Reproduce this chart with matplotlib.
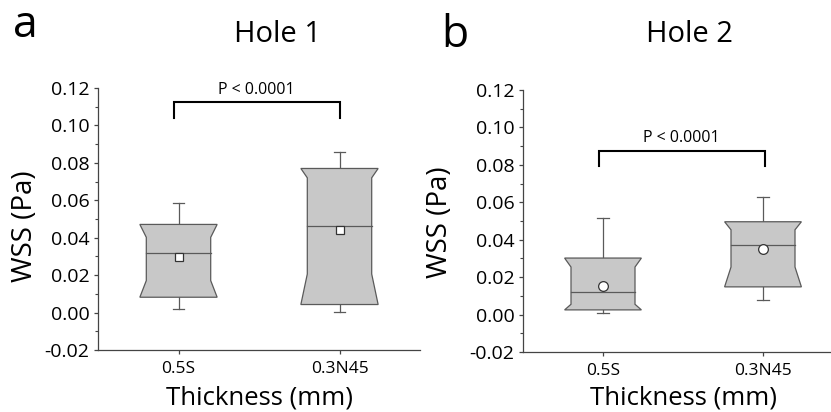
import numpy as np
import matplotlib
matplotlib.use('Agg')
import matplotlib.pyplot as plt
from matplotlib.patches import Polygon

plt.rcParams['font.family'] = ['Open Sans', 'DejaVu Sans']

# data (WSS in Pa)
groups = ['0.5S', '0.3N45']
hole1_whislo = [0.0021, 0.0005]
hole1_q1 = [0.0082, 0.0043]
hole1_notchlo = [0.0171, 0.0206]
hole1_med = [0.0320, 0.0462]
hole1_notchhi = [0.0402, 0.0720]
hole1_q3 = [0.0471, 0.0770]
hole1_whishi = [0.0588, 0.0859]
hole1_mean = [0.0295, 0.0441]

hole2_whislo = [0.0007, 0.0080]
hole2_q1 = [0.0025, 0.0148]
hole2_notchlo = [0.0055, 0.0254]
hole2_med = [0.0121, 0.0372]
hole2_notchhi = [0.0254, 0.0453]
hole2_q3 = [0.0302, 0.0496]
hole2_whishi = [0.0517, 0.0626]
hole2_mean = [0.0151, 0.0348]

W, H = 831, 412
fig = plt.figure(figsize=(W / 100, H / 100), dpi=100)

def px(x, y):
    return x / W, 1 - y / H

def boxes(ax, wlo, q1, nlo, med, nhi, q3, whi, mean, marker, msize):
    w, wi, cap = 0.24, 0.20, 0.035
    edge = '#5a5a5a'
    for i in range(len(groups)):
        x = i + 1
        ax.plot([x, x], [q3[i], whi[i]], color=edge, lw=0.9, zorder=1)
        ax.plot([x, x], [wlo[i], q1[i]], color=edge, lw=0.9, zorder=1)
        ax.plot([x - cap, x + cap], [whi[i], whi[i]], color=edge, lw=0.9)
        ax.plot([x - cap, x + cap], [wlo[i], wlo[i]], color=edge, lw=0.9)
        verts = [(x - w, q3[i]), (x + w, q3[i]), (x + wi, nhi[i]), (x + wi, nlo[i]),
                 (x + w, q1[i]), (x - w, q1[i]), (x - wi, nlo[i]), (x - wi, nhi[i])]
        ax.add_patch(Polygon(verts, closed=True, facecolor='#c8c8c8', edgecolor=edge,
                             lw=0.9, zorder=2))
        ax.plot([x - wi, x + wi], [med[i], med[i]], color=edge, lw=0.9, zorder=3)
        ax.plot(x, mean[i], marker=marker, ms=msize, mfc='white', mec='#333333',
                mew=0.9, zorder=4)

def style(ax):
    ax.set_xlim(0.5, 2.5)
    ax.set_ylim(-0.02, 0.12)
    for s in ['top', 'right']:
        ax.spines[s].set_visible(False)
    for s in ['left', 'bottom']:
        ax.spines[s].set_color('#444444')
        ax.spines[s].set_linewidth(0.9)
    ax.set_xticks([1, 2])
    ax.set_xticklabels(groups, fontsize=12.5)
    ticks = np.arange(-0.02, 0.121, 0.02)
    ax.set_yticks(ticks)
    ax.set_yticklabels([f'{v:.2f}' for v in ticks], fontsize=14)
    ax.set_yticks(np.arange(-0.01, 0.12, 0.02), minor=True)
    ax.tick_params(which='major', length=3, width=0.9, color='#444444', pad=3)
    ax.tick_params(axis='x', pad=5)
    ax.tick_params(which='minor', length=2, width=0.8, color='#444444')

def bracket(ax, x1, x2, y, ylo, text, ty):
    ax.plot([x1, x1, x2, x2], [ylo, y, y, ylo], color='black', lw=1.5,
            solid_joinstyle='miter')
    ax.text((x1 + x2) / 2, ty, text, ha='center', va='center', fontsize=11.5)

# panel a
ax1 = fig.add_axes([98 / W, 62 / H, 322 / W, 262 / H])
boxes(ax1, hole1_whislo, hole1_q1, hole1_notchlo, hole1_med, hole1_notchhi,
      hole1_q3, hole1_whishi, hole1_mean, 's', 6)
style(ax1)
bracket(ax1, 0.97, 2.0, 0.1125, 0.104, 'P < 0.0001', 0.119)

# panel b
ax2 = fig.add_axes([523 / W, 60 / H, 320 / W, 262 / H])
boxes(ax2, hole2_whislo, hole2_q1, hole2_notchlo, hole2_med, hole2_notchhi,
      hole2_q3, hole2_whishi, hole2_mean, 'o', 7)
style(ax2)
bracket(ax2, 0.975, 2.01, 0.0873, 0.0796, 'P < 0.0001', 0.0942)

# labels and titles
fig.text(*px(25, 226), 'WSS (Pa)', rotation=90, ha='center', va='center', fontsize=20)
fig.text(*px(440, 222), 'WSS (Pa)', rotation=90, ha='center', va='center', fontsize=20)
fig.text(*px(259, 398), 'Thickness (mm)', ha='center', va='center', fontsize=18.5)
fig.text(*px(683, 398), 'Thickness (mm)', ha='center', va='center', fontsize=18.5)
fig.text(*px(277, 35), 'Hole 1', ha='center', va='center', fontsize=21)
fig.text(*px(690, 35), 'Hole 2', ha='center', va='center', fontsize=21)
fig.text(*px(25, 37), 'a', ha='center', va='baseline', fontsize=32)
fig.text(*px(455, 47), 'b', ha='center', va='baseline', fontsize=32)

fig.savefig('out.png', dpi=100)
